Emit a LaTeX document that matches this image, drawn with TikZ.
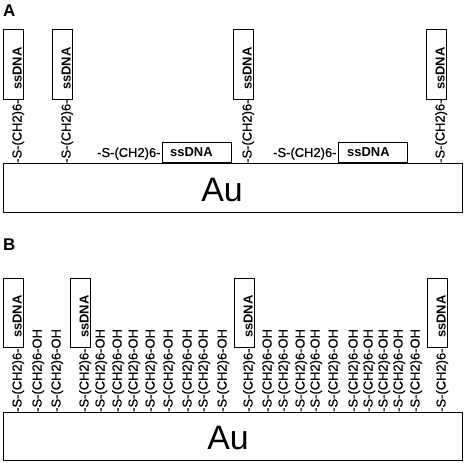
\documentclass[tikz,border=0pt]{standalone}
\usepackage{fontspec}
\setmainfont{Liberation Sans}
\newfontfamily\chainfont[FakeBold=0.8]{Liberation Sans}
\begin{document}
\begin{tikzpicture}[x=1bp,y=-1bp,
  chaintxt/.style={font=\chainfont\fontsize{13}{15}\selectfont, inner sep=0pt, anchor=base west},
  dnatxt/.style={font=\fontsize{13}{15}\selectfont\bfseries, inner sep=0pt, anchor=base west},
  dnabox/.style={draw, line width=0.9bp, inner sep=0pt, outer sep=0pt},
  gold/.style={draw, line width=0.9bp, inner sep=0pt, outer sep=0pt, minimum width=459bp, minimum height=49bp, anchor=north west},
  autxt/.style={font=\fontsize{34}{40}\selectfont, inner sep=0pt, anchor=base},
  paneltxt/.style={font=\fontsize{17}{20}\selectfont\bfseries, inner sep=0pt, anchor=base west}]
\useasboundingbox (0,0) rectangle (464,463);

% ---------- Panel A ----------
\node[paneltxt] (labA) at (3,17) {A};
\node[gold] (auA) at (3,163) {};
\node[autxt] (auAtxt) at (222,202) {Au};

% vertical ssDNA chains
\foreach \c [count=\i] in {17,66,247,440}{
  \node[chaintxt, rotate=90] (aC\i) at (\c+4.5,163) {-S-(CH2)6-};
  \node[dnabox, minimum width=20bp, minimum height=70bp, anchor=south west] (aB\i) at (\c-14,99) {};
  \node[dnatxt, rotate=90] (aD\i) at (\c+4.5,90) {ssDNA};
}

% lying ssDNA chains
\node[chaintxt] (aH1) at (97,157) {-S-(CH2)6-};
\node[dnabox, minimum width=69bp, minimum height=20bp, anchor=north west] (aHB1) at (162,142) {};
\node[dnatxt] (aHD1) at (170,157) {ssDNA};

\node[chaintxt] (aH2) at (273,157) {-S-(CH2)6-};
\node[dnabox, minimum width=69bp, minimum height=20bp, anchor=north west] (aHB2) at (338,142) {};
\node[dnatxt] (aHD2) at (347,157) {ssDNA};

% ---------- Panel B ----------
\node[paneltxt] (labB) at (3,250) {B};
\node[gold, minimum height=48bp] (auB) at (3,412) {};
\node[autxt] (auBtxt) at (228,449) {Au};

\foreach \c [count=\i] in {17,84,248,441}{
  \node[chaintxt, rotate=90] (bC\i) at (\c+4.5,412) {-S-(CH2)6-};
  \node[dnabox, minimum width=20bp, minimum height=69bp, anchor=south west] (bB\i) at (\c-14,347) {};
  \node[dnatxt, rotate=90] (bD\i) at (\c+4.5,338) {ssDNA};
}

\foreach \c [count=\i] in {37,56,100,117,133,150,168,187,203,222,267,283,300,315,333,353,368,383,398,415}{
  \node[chaintxt, rotate=90] (bOH\i) at (\c+4.5,412) {-S-(CH2)6-OH};
}
\end{tikzpicture}
\end{document}
